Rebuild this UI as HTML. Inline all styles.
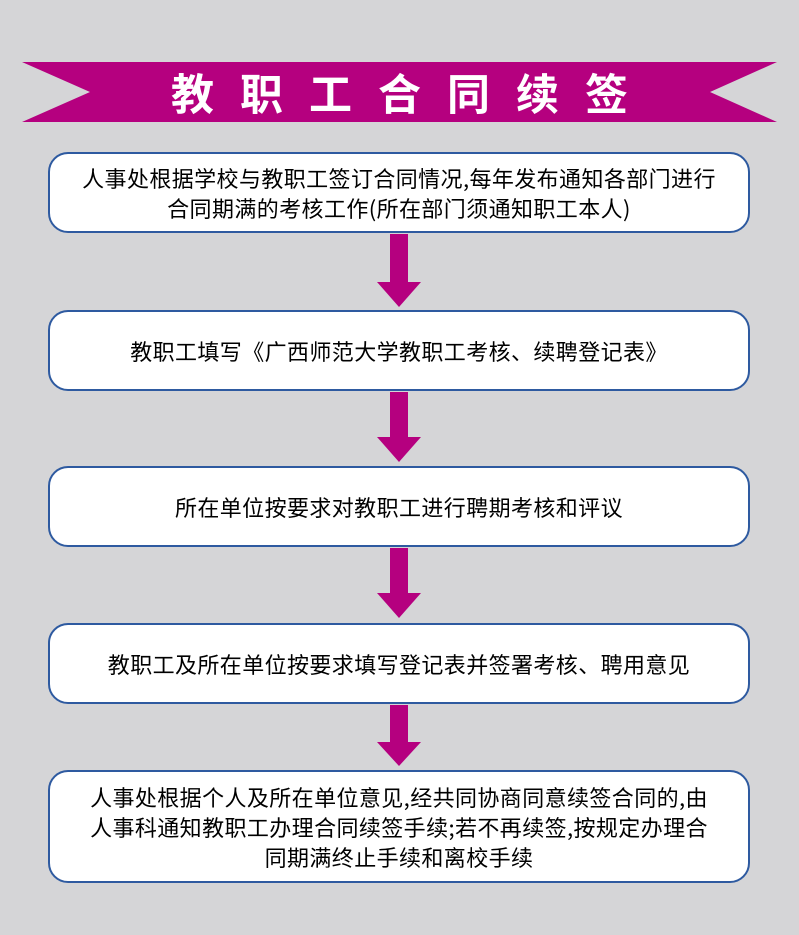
<!DOCTYPE html>
<html><head><meta charset="utf-8"><style>
body{margin:0;width:799px;height:935px;background:#d5d5d7;position:relative;overflow:hidden;font-family:"Liberation Sans","Noto Sans CJK SC",sans-serif}
.box{position:absolute;left:48px;width:698px;background:#fff;border:2px solid #2e5aa0;border-radius:20px;display:flex;align-items:center;justify-content:center;text-align:center;font-size:22px;line-height:30px;color:#000;font-family:"Noto Sans CJK SC",sans-serif;letter-spacing:0.4px}
.title{position:absolute;left:0;width:799px;top:62px;height:60px;display:flex;align-items:center;justify-content:center;color:#fff;font-weight:bold;font-size:43px;letter-spacing:26px;padding-left:26px;box-sizing:border-box;font-family:"Noto Sans CJK SC",sans-serif}
</style></head><body>
<svg width="799" height="935" style="position:absolute;left:0;top:0">
<polygon points="22,62 777,62 710,92 777,122 22,122 90,92" fill="#b5007f"/>
<g fill="#b5007f">
<rect x="390" y="234" width="18" height="50"/><polygon points="377,282 421,282 399,307"/>
<rect x="390" y="392" width="18" height="46"/><polygon points="377,437 421,437 399,462"/>
<rect x="390" y="548" width="18" height="46"/><polygon points="377,593 421,593 399,618"/>
<rect x="390" y="705" width="18" height="38"/><polygon points="377,742 421,742 399,766"/>
</g>
</svg>
<div class="title">教职工合同续签</div>
<div class="box" style="top:152px;height:77px">人事处根据学校与教职工签订合同情况,每年发布通知各部门进行<br>合同期满的考核工作(所在部门须通知职工本人)</div>
<div class="box" style="top:310px;height:77px">教职工填写《广西师范大学教职工考核、续聘登记表》</div>
<div class="box" style="top:466px;height:77px">所在单位按要求对教职工进行聘期考核和评议</div>
<div class="box" style="top:623px;height:77px">教职工及所在单位按要求填写登记表并签署考核、聘用意见</div>
<div class="box" style="top:770px;height:109px">人事处根据个人及所在单位意见,经共同协商同意续签合同的,由<br>人事科通知教职工办理合同续签手续;若不再续签,按规定办理合<br>同期满终止手续和离校手续</div>
</body></html>
